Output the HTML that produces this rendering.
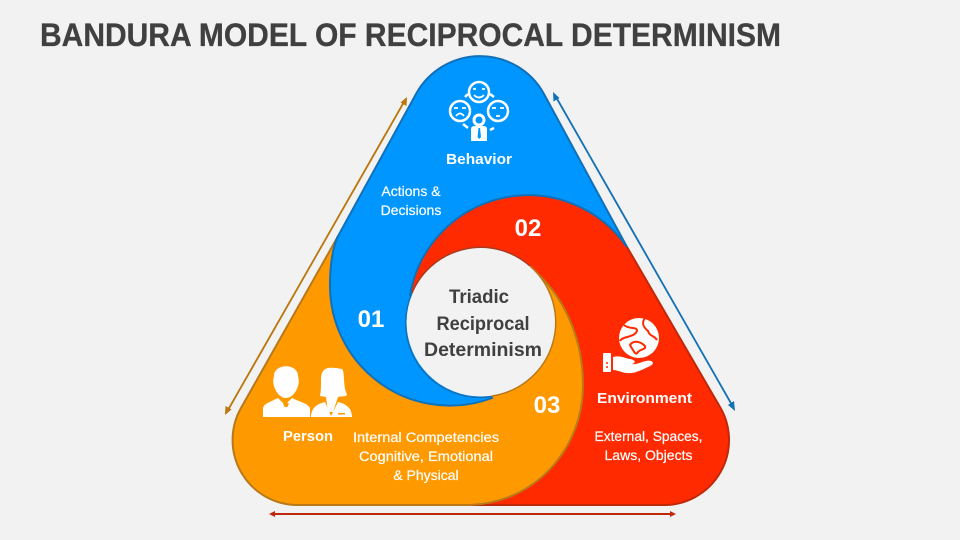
<!DOCTYPE html>
<html><head><meta charset="utf-8"><style>
html,body{margin:0;padding:0;background:#f2f2f2}
svg{display:block}
text{font-family:"Liberation Sans",sans-serif}
.w{fill:#fff;text-anchor:middle;font-size:14px;stroke:#fff;stroke-width:.2px}
.b{fill:#fff;text-anchor:middle;font-size:15px;font-weight:bold}
.n{fill:#fff;text-anchor:middle;font-size:24px;font-weight:bold}
.c{fill:#404040;text-anchor:middle;font-size:19.5px;font-weight:bold}
</style></head><body>
<svg width="960" height="540" viewBox="0 0 960 540" xmlns="http://www.w3.org/2000/svg">
<rect width="960" height="540" fill="#f2f2f2"/>
<text x="40" y="46" font-size="32" font-weight="bold" fill="#404040" stroke="#404040" stroke-width=".3" textLength="741" lengthAdjust="spacingAndGlyphs">BANDURA MODEL OF RECIPROCAL DETERMINISM</text>

<!-- Red -->
<path d="M408 315 A120 120 0 0 1 627 247 L720 407 A65 65 0 0 1 665 505 L400 505 Z" fill="#ff2a00" stroke="#c0280a" stroke-width="2"/>
<!-- Orange -->
<path d="M337 238 L241 408 A65 65 0 0 0 297 505 L470 505 C534 503 583 450 583 385 C583 340 565 295 530 267 L481 322 L420 350 Z" fill="#ff9900" stroke="#b8791a" stroke-width="2"/>
<!-- Blue -->
<path d="M337 238 L416 94 A73 73 0 0 1 544 94 L627 247 A120 120 0 0 0 410 295 L492 398 A120 120 0 0 1 330 285 C330 268 332 251 337 238 Z" fill="#0096ff" stroke="#1070b8" stroke-width="2"/>
<!-- centre -->
<circle cx="481" cy="322" r="74.500" fill="#f2f2f2"/>
<path d="M412 293 A74.500 74.500 0 0 1 530 266" fill="none" stroke="#a83a20" stroke-width="1.500"/>
<path d="M530 266 A74.500 74.500 0 0 1 492 396" fill="none" stroke="#b8791a" stroke-width="1.500"/>
<path d="M492 396.500 A74.500 74.500 0 0 1 412 293" fill="none" stroke="#1070b8" stroke-width="1.500"/>

<!-- double arrows -->
<g fill="none">
<line x1="404" y1="102" x2="228" y2="410" stroke="#b9770e" stroke-width="1.800"/>
<line x1="556" y1="97" x2="732" y2="405" stroke="#1070b8" stroke-width="1.800"/>
<line x1="274" y1="514" x2="671" y2="514" stroke="#c0280a" stroke-width="2"/>
</g>
<path d="M407 97 L406.500 106 L400.500 102.500 Z" fill="#b9770e"/>
<path d="M225 415 L225.500 406 L231.500 409.500 Z" fill="#b9770e"/>
<path d="M553 92 L559.500 98 L553.500 101.500 Z" fill="#1070b8"/>
<path d="M735 411 L728 405 L734 401 Z" fill="#1070b8"/>
<path d="M269 514 L275 511 L275 517 Z" fill="#c0280a"/>
<path d="M676 514 L670 511 L670 517 Z" fill="#c0280a"/>

<!-- Behavior icon -->
<g fill="none" stroke="#fff" stroke-width="2.500">
<circle cx="479" cy="92" r="10"/><circle cx="460" cy="111" r="10"/><circle cx="498" cy="111" r="10"/>
<path d="M465 97 L468 94 M490 94 L494 97 M463 124 L468 128 M494 128 L490 130"/>
<path d="M474 95 Q479 100 484 95 M473 89 h3 M482 89 h3" stroke-width="1.800"/>
<path d="M454 108 h4 M462 108 h4 M456 116 Q460 111 464 116" stroke-width="1.800"/>
<path d="M492 108 h4 M500 108 h4 M496 116 h4" stroke-width="1.800"/>
<circle cx="479" cy="120" r="5" stroke-width="3"/>
</g>
<path d="M471 141 V129 Q471 126 475 126 H483 Q487 126 487 129 V141 Z" fill="#fff"/>
<path d="M478.500 128 h1.500 l1 9 l-1.700 2 l-1.700 -2 Z" fill="#0096ff"/>

<!-- Person icon -->
<g fill="#fff">
<path d="M274 376 C274 363 298 363 298 376 C299 380 299 383 298 386 C296 393 291 398 286 398 C281 398 276 393 274 386 C273 383 273 380 274 376 Z"/>
<path d="M263 417 V409 C263 404 270 402 278 398 L285 405 L292 398 C300 402 310 404 310 409 V417 Z"/>
<path d="M320 396 C322 386 320 378 322 373 C325 366 332 368 336 368 L342 369 C345 372 343 385 346 392 L347 395 C345 397 341 396 338 397 L333 412 L328 412 L326 397 Z"/>
<path d="M311 417 C311 408 317 404 325 402 L331 416 L338 402 C346 404 352 408 352 417 Z"/>
</g>
<path d="M283 403 h6 l-1.500 4 h-3 Z" fill="#ff9900"/>
<rect x="338" y="413" width="7" height="1.500" fill="#ff9900"/>

<!-- Environment icon -->
<circle cx="639" cy="338" r="20" fill="#fff"/>
<g fill="none" stroke="#ff2a00" stroke-width="2">
<path d="M624 325 C630 330 637 326 637 331 C634 338 622 336 620 341"/>
<path d="M645 318 C642 322 642 326 648 331 C650 337 654 335 657 340"/>
<path d="M630 345 C633 340 640 341 645 346 C646 350 642 348 638 352 C636 356 634 352 630 345 Z"/>
</g>
<rect x="603" y="353" width="8" height="19" rx="1" fill="#fff"/>
<rect x="606.300" y="362" width="1.500" height="2" fill="#ff2a00"/><rect x="606.300" y="366" width="1.500" height="2" fill="#ff2a00"/>
<path d="M613 357 C620 355 624 358 630 359 C636 360 636 363 632 364 C638 365 646 359 651 361 C654 362 653 365 650 366 C642 370 634 374 627 373 C622 373 618 370 613 370 Z" fill="#fff"/>

<!-- labels -->
<text class="b" x="479" y="164" textLength="66" lengthAdjust="spacingAndGlyphs">Behavior</text>
<text class="w" x="411" y="196">Actions &amp;</text>
<text class="w" x="411" y="215">Decisions</text>
<text class="n" x="528" y="236">02</text>
<text class="n" x="371" y="327">01</text>
<text class="n" x="547" y="413">03</text>
<text class="c" x="479" y="303" textLength="60" lengthAdjust="spacingAndGlyphs">Triadic</text>
<text class="c" x="483" y="330" textLength="93" lengthAdjust="spacingAndGlyphs">Reciprocal</text>
<text class="c" x="483" y="356" textLength="118" lengthAdjust="spacingAndGlyphs">Determinism</text>
<text class="b" x="308" y="441" textLength="50" lengthAdjust="spacingAndGlyphs">Person</text>
<text class="w" x="426" y="442" textLength="146" lengthAdjust="spacingAndGlyphs">Internal Competencies</text>
<text class="w" x="426" y="461" textLength="134" lengthAdjust="spacingAndGlyphs">Cognitive, Emotional</text>
<text class="w" x="426" y="480">&amp; Physical</text>
<text class="b" x="644.500" y="403" textLength="95" lengthAdjust="spacingAndGlyphs">Environment</text>
<text class="w" x="648.500" y="441" textLength="108" lengthAdjust="spacingAndGlyphs">External, Spaces,</text>
<text class="w" x="648.500" y="460" textLength="88" lengthAdjust="spacingAndGlyphs">Laws, Objects</text>
</svg>
</body></html>
